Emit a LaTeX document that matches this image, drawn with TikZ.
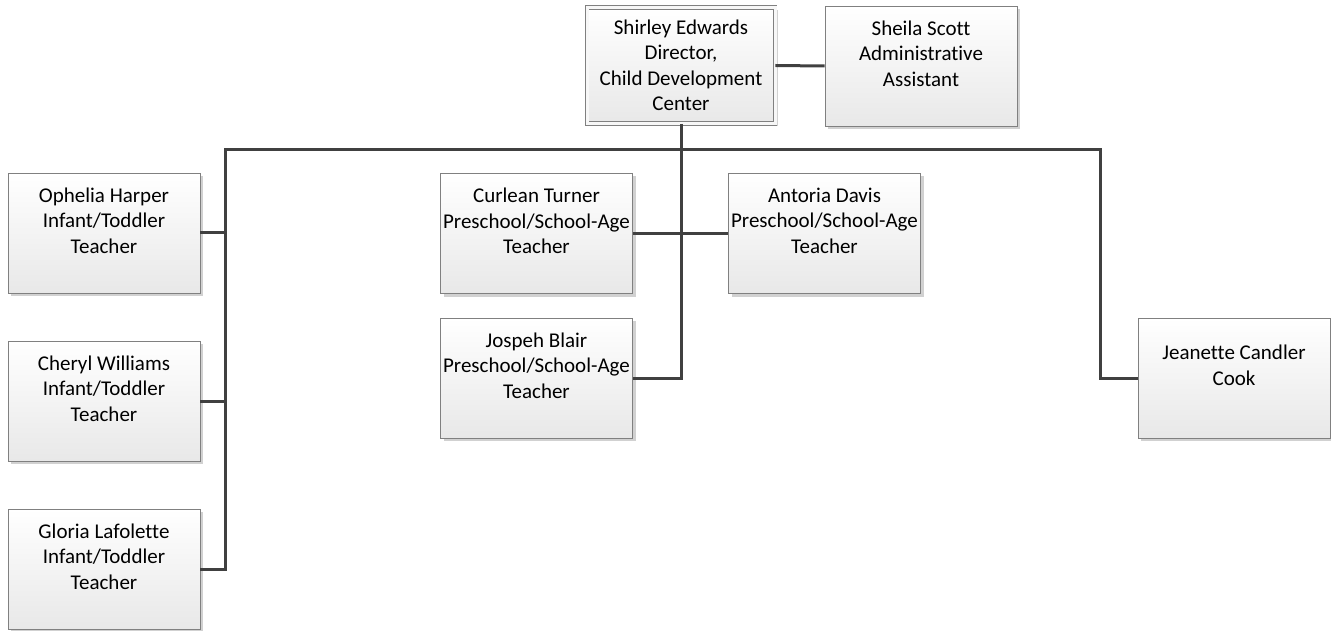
\documentclass[tikz,border=0pt]{standalone}
\usepackage{fontspec}
\setmainfont{Carlito}[Ligatures=NoCommon]
\usetikzlibrary{shadows}

\begin{document}
\begin{tikzpicture}[x=1pt, y=-1pt,
  staff/.style={draw=black!50, line width=0.9pt, top color=white, bottom color=black!9,
    minimum width=192pt, minimum height=120pt, inner sep=0pt, align=center,
    font=\fontsize{21}{25.5}\selectfont,
    drop shadow={shadow xshift=3pt, shadow yshift=-3pt, fill=black!18, opacity=1}},
  head/.style={staff, minimum width=188pt, minimum height=116pt,
    double=black!3, double distance=3pt},
  link/.style={draw=black!75, line width=3pt}]
\useasboundingbox (0,0) rectangle (1331,631);
%
\node [head]  (dir)      at (681,65.5)  {Shirley Edwards\\Director,\\Child Development\\Center};
\node [staff] (sheila)   at (921,66)    {Sheila Scott\\Administrative\\Assistant\\~};
%
\node [staff] (ophelia)  at (104,233)   {Ophelia Harper\\Infant/Toddler\\Teacher\\~};
\node [staff] (cheryl)   at (104,401)   {Cheryl Williams\\Infant/Toddler\\Teacher\\~};
\node [staff] (gloria)   at (104,569)   {Gloria Lafolette\\Infant/Toddler\\Teacher\\~};
%
\node [staff] (curlean)  at (536.5,233.5) {Curlean Turner\\Preschool/School-Age\\Teacher\\~};
\node [staff] (antoria)  at (824.5,233.5) {Antoria Davis\\Preschool/School-Age\\Teacher\\~};
\node [staff] (jospeh)   at (536.5,378)   {Jospeh Blair\\Preschool/School-Age\\Teacher\\~};
\node [staff] (jeanette) at (1234,378)    {Jeanette Candler\\Cook\\~};
%
\coordinate (busL) at (225,150);
\coordinate (busR) at (1100,150);
%
\draw [link] (dir.east) -- (sheila.west);
\draw [link] (dir.south) |- (jospeh.east);
\draw [link] (jeanette.west) -| (busR) -- (busL) |- (gloria.east);
\draw [link] (ophelia.east) -- (ophelia.east -| busL);
\draw [link] (cheryl.east) -- (cheryl.east -| busL);
\draw [link] (curlean.east) -- (antoria.west);
%%%%%%%%%%%%%%%%%%%%%%%%%%%%%%%
\end{tikzpicture}
\end{document}
